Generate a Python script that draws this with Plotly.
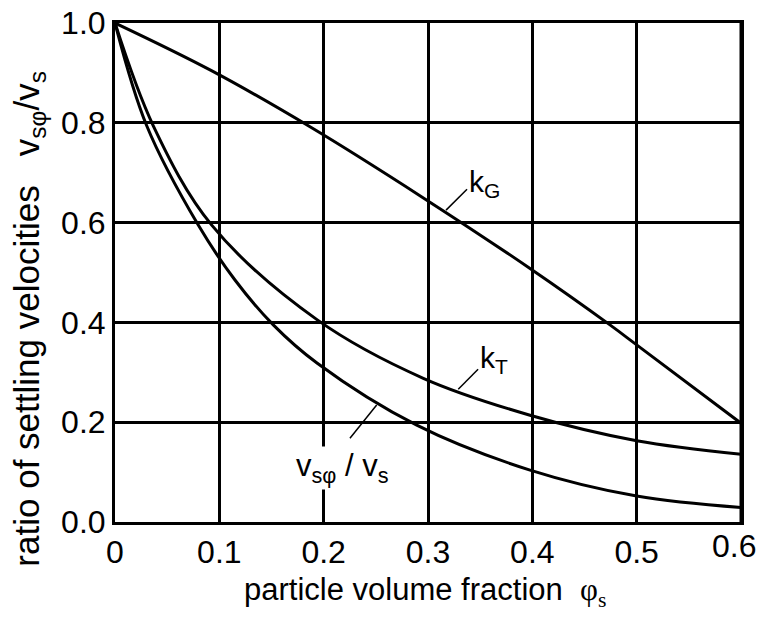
import plotly.graph_objects as go

# data
kG_x = [0, 0.092, 0.1885, 0.2952, 0.3978, 0.4744, 0.5, 0.6]
kG_y = [1.0, 0.905, 0.790, 0.650, 0.508, 0.395, 0.355, 0.198]

kT_x = [0, 0.0367, 0.0927, 0.1939, 0.2955, 0.3978, 0.5, 0.6]
kT_y = [1.0, 0.794, 0.595, 0.405, 0.288, 0.214, 0.163, 0.136]

v_x = [0, 0.0304, 0.0798, 0.115, 0.1517, 0.1939, 0.2892, 0.3978, 0.5, 0.6]
v_y = [1.0, 0.794, 0.595, 0.485, 0.395, 0.318, 0.194, 0.104, 0.052, 0.029]

x_ticks = [0, 0.1, 0.2, 0.3, 0.4, 0.5, 0.6]
x_ticktext = ["0", "0.1", "0.2", "0.3", "0.4", "0.5", "0.6"]
y_ticks = [0, 0.2, 0.4, 0.6, 0.8, 1.0]
y_ticktext = ["0.0", "0.2", "0.4", "0.6", "0.8", "1.0"]

FONT = "Liberation Sans, Arial, sans-serif"
fig = go.Figure()

for xs, ys in [(kG_x, kG_y), (kT_x, kT_y), (v_x, v_y)]:
    fig.add_trace(go.Scatter(x=xs, y=ys, mode="lines",
                             line=dict(color="black", width=3, shape="spline", smoothing=1.0),
                             hoverinfo="skip", showlegend=False))

# leader lines for labels
leaders = [((0.3173, 0.625), (0.3374, 0.667)),
           ((0.329, 0.266), (0.348, 0.306)),
           ((0.2252, 0.168), (0.2508, 0.2345))]
for (x0, y0), (x1, y1) in leaders:
    fig.add_trace(go.Scatter(x=[x0, x1], y=[y0, y1], mode="lines",
                             line=dict(color="black", width=1.5),
                             hoverinfo="skip", showlegend=False))

fig.add_annotation(x=0.3546, y=0.679, xref="x", yref="y", text="k<sub>G</sub>",
                   showarrow=False, font=dict(family=FONT, size=30, color="black"))
fig.add_annotation(x=0.3633, y=0.325, xref="x", yref="y", text="k<sub>T</sub>",
                   showarrow=False, font=dict(family=FONT, size=30, color="black"))
fig.add_annotation(x=0.2176, y=0.108, xref="x", yref="y",
                   text="v<sub>sφ</sub> / v<sub>s</sub>",
                   showarrow=False, bgcolor="white",
                   font=dict(family=FONT, size=31, color="black"))

# last x tick label placed inside the page (as in the reference)
fig.add_annotation(x=x_ticks[-1], y=0, xref="x", yref="paper", xanchor="right", yanchor="top",
                   xshift=17, yshift=-4, text=x_ticktext[-1], showarrow=False,
                   font=dict(family=FONT, size=32, color="black"))

# axis titles
fig.add_annotation(x=0.495, y=-0.097, xref="paper", yref="paper", xanchor="center", yanchor="top",
                   text="particle volume fraction  <span style='font-family:Liberation Serif,Times New Roman,serif'>φ<sub>s</sub></span>",
                   showarrow=False, font=dict(family=FONT, size=31, color="black"))
fig.add_annotation(x=-0.137, y=0.408, xref="paper", yref="paper", xanchor="center", yanchor="middle",
                   textangle=-90,
                   text="ratio of settling velocities   v<sub>sφ</sub>/v<sub>s</sub>",
                   showarrow=False, font=dict(family=FONT, size=35, color="black"))

axis_common = dict(showgrid=True, gridcolor="black", gridwidth=3, zeroline=False,
                   showline=True, linecolor="black", linewidth=3, mirror=True,
                   automargin=False,
                   ticks="", tickfont=dict(family=FONT, size=32, color="black"))
fig.update_xaxes(range=[0, 0.6], tickvals=x_ticks[:-1], ticktext=x_ticktext[:-1], **axis_common)
fig.add_trace(go.Scatter(x=[x_ticks[-1], x_ticks[-1]], y=[0, 1.0], mode="lines",
                         line=dict(color="black", width=3), hoverinfo="skip", showlegend=False))
fig.update_yaxes(range=[0, 1.0], tickvals=y_ticks, ticktext=y_ticktext, **axis_common)

fig.update_layout(width=759, height=619, margin=dict(l=115, r=18, t=23, b=97, autoexpand=False),
                  plot_bgcolor="white", paper_bgcolor="white",
                  font=dict(family=FONT, color="black"))

fig.write_html("out.html")
